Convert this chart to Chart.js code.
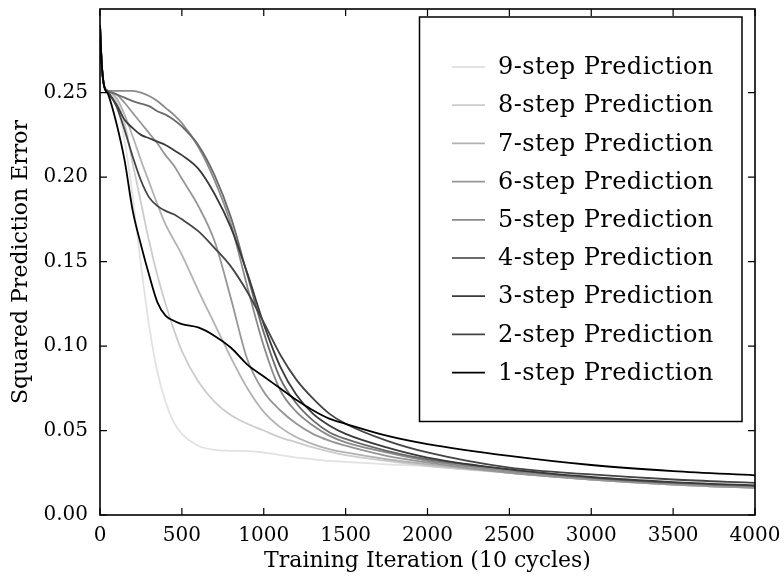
<!DOCTYPE html>
<html>
<head>
<meta charset="utf-8">
<style>
  html, body { margin: 0; padding: 0; background: #fff; }
</style>
<script src="https://cdn.jsdelivr.net/npm/chart.js@4.4.1/dist/chart.umd.min.js"></script>
</head>
<body>
<canvas id="chart" width="784" height="581"></canvas>
<script>
// training iteration (x) and squared error per prediction horizon
const iterations = [0, 10, 25, 50, 100, 150, 200, 250, 300, 350, 400, 450, 500, 600, 700, 800, 900, 1000, 1100, 1200, 1300, 1400, 1500, 1750, 2000, 2500, 3000, 3500, 4000]
const step9 = [.290, .268, .254, .250, .243, .222, .188, .148, .112, .085, .067, .055, .048, .041, .0385, .038, .0378, .037, .0355, .034, .033, .032, .0315, .030, .029, .025, .021, .018, .016]
const step8 = [.290, .268, .254, .251, .245, .232, .208, .185, .162, .142, .125, .110, .097, .079, .067, .059, .054, .050, .046, .043, .040, .0375, .0355, .032, .029, .025, .021, .018, .016]
const step7 = [.290, .268, .254, .251, .247, .237, .224, .210, .197, .184, .172, .163, .154, .133, .113, .093, .075, .061, .052, .046, .042, .039, .037, .033, .030, .025, .021, .018, .016]
const step6 = [.290, .268, .254, .251, .249, .244, .238, .232, .226, .220, .213, .207, .199, .183, .162, .128, .092, .073, .062, .054, .048, .044, .041, .035, .031, .025, .021, .018, .016]
const step5 = [.290, .268, .254, .251, .251, .251, .251, .250, .248, .245, .241, .237, .232, .218, .198, .172, .135, .100, .074, .061, .053, .047, .043, .037, .032, .026, .022, .019, .017]
const step4 = [.290, .268, .254, .251, .249, .247, .245, .2435, .242, .239, .237, .234, .230, .219, .201, .176, .142, .108, .081, .066, .056, .049, .045, .038, .033, .027, .022, .019, .017]
const step3 = [.290, .268, .254, .250, .243, .234, .229, .225, .223, .221, .219, .216, .213, .205, .190, .170, .143, .113, .088, .071, .060, .053, .048, .040, .034, .027, .0225, .0195, .0175]
const step2 = [.290, .268, .254, .250, .242, .228, .212, .198, .188, .183, .180, .178, .175, .168, .158, .147, .132, .114, .095, .080, .069, .060, .054, .044, .037, .028, .024, .021, .019]
const step1 = [.290, .268, .254, .249, .232, .210, .180, .160, .142, .126, .118, .115, .113, .111, .106, .099, .089, .082, .075, .068, .062, .057, .054, .047, .042, .035, .0296, .026, .0235]

const seriesLabels = ['9-step Prediction', '8-step Prediction', '7-step Prediction', '6-step Prediction', '5-step Prediction',
  '4-step Prediction', '3-step Prediction', '2-step Prediction', '1-step Prediction']
const seriesValues = [step9, step8, step7, step6, step5, step4, step3, step2, step1]
const seriesColors = ['#e2e2e2', '#cccccc', '#b2b2b2', '#969696', '#8a8a8a', '#6a6a6a', '#3a3a3a', '#444444', '#000000']

const xTicks = [0, 500, 1000, 1500, 2000, 2500, 3000, 3500, 4000]
const yTicks = [0, 0.05, 0.10, 0.15, 0.20, 0.25]

const FONT = 'DejaVu Serif'

// box, inward ticks, legend and axis titles, drawn over the lines
const framePlugin = {
  id: 'frame',
  afterDatasetsDraw (chart) {
    const { ctx, chartArea: a, scales: { x, y } } = chart
    ctx.save()
    ctx.strokeStyle = '#000'
    ctx.lineWidth = 1.2
    ctx.beginPath()
    xTicks.forEach(v => {
      const px = x.getPixelForValue(v)
      ctx.moveTo(px, a.bottom); ctx.lineTo(px, a.bottom - 7)
      ctx.moveTo(px, a.top); ctx.lineTo(px, a.top + 7)
    })
    yTicks.forEach(v => {
      const py = y.getPixelForValue(v)
      ctx.moveTo(a.left, py); ctx.lineTo(a.left + 7, py)
      ctx.moveTo(a.right, py); ctx.lineTo(a.right - 7, py)
    })
    ctx.stroke()
    ctx.lineWidth = 1.6
    ctx.strokeRect(a.left, a.top, a.right - a.left, a.bottom - a.top)

    // legend
    const lx = 419.5, ly = 17, lw = 322.5, lh = 404.5
    ctx.fillStyle = '#fff'
    ctx.fillRect(lx, ly, lw, lh)
    ctx.lineWidth = 1.5
    ctx.strokeRect(lx, ly, lw, lh)
    ctx.font = `24px "${FONT}"`
    ctx.letterSpacing = '0.45px'
    ctx.textBaseline = 'middle'
    ctx.textAlign = 'left'
    chart.data.datasets.forEach((ds, i) => {
      const ry = 67 + i * 38.2
      ctx.strokeStyle = ds.borderColor
      ctx.lineWidth = 1.8
      ctx.beginPath()
      ctx.moveTo(452, ry); ctx.lineTo(485, ry)
      ctx.stroke()
      ctx.fillStyle = '#000'
      ctx.fillText(ds.label, 498, ry + 1)
    })

    // axis titles
    ctx.fillStyle = '#000'
    ctx.textAlign = 'center'
    ctx.font = `22px "${FONT}"`
    ctx.letterSpacing = '0px'
    ctx.fillText('Training Iteration (10 cycles)', (a.left + a.right) / 2, 561)
    ctx.translate(21, (a.top + a.bottom) / 2)
    ctx.rotate(-Math.PI / 2)
    ctx.fillText('Squared Prediction Error', 0, 0)
    ctx.restore()
  }
}

new Chart(document.getElementById('chart'), {
  type: 'line',
  data: {
    datasets: seriesValues.map((vals, i) => ({
      label: seriesLabels[i],
      data: iterations.map((it, j) => ({ x: it, y: vals[j] })),
      borderColor: seriesColors[i],
      borderWidth: 1.8,
      pointRadius: 0,
      fill: false,
      cubicInterpolationMode: 'monotone',
      order: seriesValues.length - i
    }))
  },
  options: {
    responsive: false,
    animation: false,
    devicePixelRatio: 1,
    layout: { padding: { top: 9, right: 29, left: 0, bottom: 0 } },
    plugins: {
      legend: { display: false },
      tooltip: { enabled: false }
    },
    scales: {
      x: {
        type: 'linear',
        min: 0,
        max: 4000,
        grid: { display: false, drawTicks: false },
        border: { display: false },
        afterBuildTicks: axis => { axis.ticks = xTicks.map(v => ({ value: v })) },
        afterFit: axis => {
          axis.height = 66
          axis.paddingLeft = 0
          axis.paddingRight = 0
        },
        ticks: {
          autoSkip: false,
          maxRotation: 0,
          padding: 9,
          color: '#000',
          font: { family: FONT, size: 20 },
          callback: v => String(v)
        }
      },
      y: {
        min: 0,
        max: 0.2995,
        grid: { display: false, drawTicks: false },
        border: { display: false },
        afterBuildTicks: axis => { axis.ticks = yTicks.map(v => ({ value: v })) },
        afterFit: axis => {
          axis.width = 100
          axis.paddingTop = 0
          axis.paddingBottom = 0
        },
        ticks: {
          autoSkip: false,
          padding: 12,
          color: '#000',
          font: { family: FONT, size: 20 },
          callback: v => v.toFixed(2)
        }
      }
    }
  },
  plugins: [framePlugin]
})
</script>
</body>
</html>
